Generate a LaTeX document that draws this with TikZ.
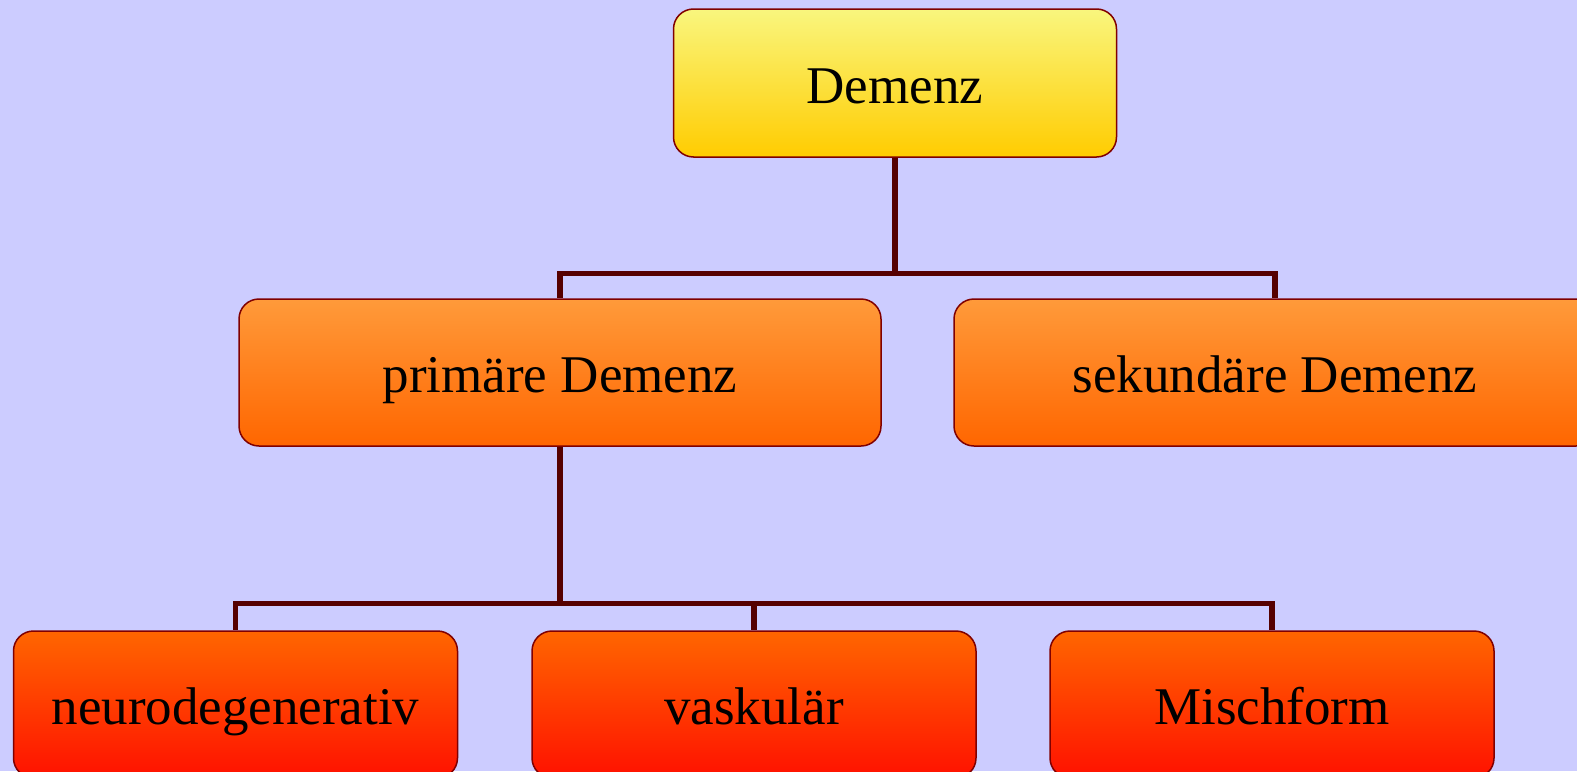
\documentclass[tikz,border=0pt]{standalone}
\usepackage{fontspec}
\setmainfont{Liberation Serif}
\usepackage{tikz}
\usetikzlibrary{calc}
\definecolor{dzpage}{HTML}{CCCCFF}
\definecolor{dzframe}{HTML}{800000}
\definecolor{dzline}{HTML}{550000}
\definecolor{dzroottop}{HTML}{F9F67E}
\definecolor{dzrootbot}{HTML}{FFCC00}
\definecolor{dzmidtop}{HTML}{FF9A3A}
\definecolor{dzmidbot}{HTML}{FF6600}
\definecolor{dzleaftop}{HTML}{FF6600}
\definecolor{dzleafbot}{HTML}{FF1100}
\tikzset{
  dzbox/.style={
    draw=dzframe,
    line width=0.75pt,
    rounded corners=10pt,
    inner sep=0pt,
    align=center,
    font=\fontsize{26.5pt}{32pt}\selectfont,
    text=black,
    text height=25pt,
    text depth=5pt,
    minimum height=73.5pt
  },
  dzroot/.style={dzbox, top color=dzroottop, bottom color=dzrootbot,
    minimum width=221.5pt, minimum height=74pt},
  dzmid/.style={dzbox, top color=dzmidtop, bottom color=dzmidbot,
    minimum width=321pt},
  dzleaf/.style={dzbox, top color=dzleaftop, bottom color=dzleafbot,
    minimum width=222pt},
  dzedge/.style={
    draw=dzline,
    line width=2.6pt
  }
}

\begin{document}
\begin{tikzpicture}[x=0.5pt,y=0.5pt]
  \fill[dzpage] (0,0) rectangle (1577,-771);
  \useasboundingbox (0,0) rectangle (1577,-771);
  \clip (0,0) rectangle (1577,-771);

  \node[dzroot] (demenz) at (895,-83) {Demenz};

  \node[dzmid] (primaer) at (560,-372.5) {primäre Demenz};
  \node[dzmid] (sekundaer) at (1275,-372.5) {sekundäre Demenz};

  \node[dzleaf] (neuro) at (235.5,-704.5) {neurodegenerativ};
  \node[dzleaf] (vaskular) at (754,-704.5) {vaskulär};
  \node[dzleaf] (misch) at (1272,-704.5) {Mischform};

  \draw[dzedge] (demenz.south) |- ([yshift=12.5pt]primaer.north) -- (primaer.north);
  \draw[dzedge] (demenz.south) |- ([yshift=12.5pt]sekundaer.north) -- (sekundaer.north);
  \draw[dzedge] (primaer.south) |- ([yshift=13.5pt]neuro.north) -- (neuro.north);
  \draw[dzedge] (primaer.south) |- ([yshift=13.5pt]vaskular.north) -- (vaskular.north);
  \draw[dzedge] (primaer.south) |- ([yshift=13.5pt]misch.north) -- (misch.north);
\end{tikzpicture}
\end{document}
